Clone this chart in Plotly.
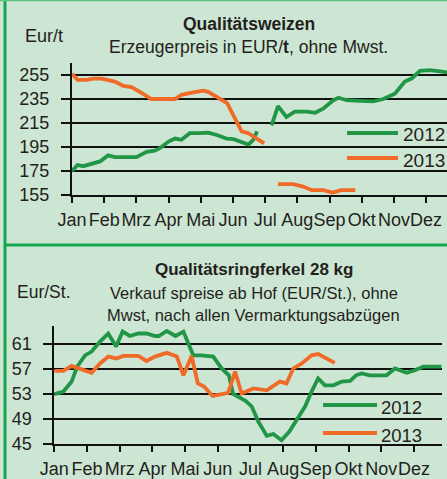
import plotly.graph_objects as go

W, H = 447, 479

months = ["Jan", "Feb", "Mrz", "Apr", "Mai", "Jun", "Jul", "Aug", "Sep", "Okt", "Nov", "Dez"]
month_pos = list(range(12))

# --- Qualitätsweizen (EUR/t) ---
wheat_2012_x = [0, 0.17, 0.35, 0.66, 0.87, 1.12, 1.33, 2.0, 2.32, 2.57, 2.73, 3.0, 3.2, 3.4, 3.66, 3.98,
                4.23, 4.5, 4.8, 5.02, 5.22, 5.48, 5.63, 5.75, 5.9, 6.2, 6.4, 6.66, 6.92, 7.3, 7.55, 7.8,
                8.12, 8.28, 8.53, 8.94, 9.36, 9.67, 10.03, 10.34, 10.55, 10.81, 11.12, 11.43, 11.7]
wheat_2012_y = [175, 180, 179, 181, 183, 188, 186.5, 186.5, 191, 192, 194, 199.5, 202, 201, 206.5, 206.5,
                207, 205, 202, 201.5, 199.5, 197, 201, 208, None, 213, 229, 220, 224.5, 224.5, 223.5, 227,
                234, 236, 234, 233.5, 233, 235, 239.5, 249.5, 252, 258.5, 259, 258, 257]
wheat_2013_x = [0, 0.17, 0.46, 0.66, 0.92, 1.33, 1.59, 1.85, 2.11, 2.47, 3.2, 3.4, 3.77, 4.08, 4.23, 4.49,
                4.82, 5.01, 5.27, 5.48, 5.73, 5.97, 6.2, 6.4, 6.87, 7.18, 7.45, 7.8, 8.1, 8.36, 8.8]
wheat_2013_y = [256, 251, 251, 252, 252, 249.5, 246, 245, 241, 235, 235, 238.5, 240.5, 242, 241, 237,
                231.5, 221.5, 208, 206.5, 202, 198, None, 164, 164, 162, 159, 159, 157, 159, 159]
wheat_ticks = [155, 175, 195, 215, 235, 255]

# --- Qualitätsringferkel 28 kg (EUR/St.) ---
piglet_2012_x = [0, 0.28, 0.53, 0.7, 0.94, 1.14, 1.4, 1.65, 1.89, 2.09, 2.31, 2.57, 2.82, 3.08, 3.2, 3.44,
                 3.71, 3.95, 4.25, 4.5, 4.86, 5.12, 5.34, 5.47, 5.85, 6.04, 6.24, 6.5, 6.7, 6.95, 7.19,
                 7.41, 7.67, 7.87, 8.07, 8.28, 8.54, 8.79, 9.05, 9.23, 9.4, 9.65, 10.16, 10.42, 10.78,
                 11.03, 11.29, 11.85]
piglet_2012_y = [53, 53.4, 55, 57.4, 59.2, 59.8, 61.4, 62.7, 60.6, 63, 62.3, 62.7, 62.7, 62.3, 62.3, 63.1,
                 62.3, 63, 59.2, 59.2, 59, 57.1, 56, 53, 51.9, 51, 48.6, 46.3, 46.6, 45.6, 47,
                 48.8, 51, 53.4, 55.5, 54.4, 54.4, 55, 55.1, 56, 56.3, 56, 56, 57.1, 56.4,
                 56.8, 57.4, 57.4]
piglet_2013_x = [0, 0.28, 0.53, 0.84, 1.14, 1.4, 1.65, 1.9, 2.11, 2.57, 2.82, 3.08, 3.44, 3.75, 3.95, 4.2,
                 4.39, 4.58, 4.84, 5.32, 5.53, 5.73, 6.09, 6.5, 6.9, 7.1, 7.31, 7.57, 7.87, 8.07, 8.58]
piglet_2013_y = [56.7, 56.7, 57.5, 56.9, 56.4, 57.9, 59, 58.7, 59.1, 59.1, 58.3, 59, 59.6, 59, 56, 59.1,
                 54.7, 54.2, 52.7, 53.2, 56.6, 53.1, 53.9, 53.6, 55, 54.7, 57.1, 57.9, 59.2, 59.4, 58]
piglet_ticks = [45, 49, 53, 57, 61]

GREEN = "rgb(32,150,70)"
ORANGE = "rgb(240,106,40)"
BG = "rgb(205,230,211)"
FRAME = "rgb(22,165,80)"
TXT = "#231f20"
FONT = "Liberation Sans, Arial, sans-serif"
LW = 3.8


def px(x):
    return x / W


def py(y):
    return 1 - y / H


fig = go.Figure()
fig.add_trace(go.Scatter(x=wheat_2012_x, y=wheat_2012_y, mode="lines", line=dict(color=GREEN, width=LW),
                         xaxis="x", yaxis="y", showlegend=False, hoverinfo="skip"))
fig.add_trace(go.Scatter(x=wheat_2013_x, y=wheat_2013_y, mode="lines", line=dict(color=ORANGE, width=LW),
                         xaxis="x", yaxis="y", showlegend=False, hoverinfo="skip"))
fig.add_trace(go.Scatter(x=piglet_2012_x, y=piglet_2012_y, mode="lines", line=dict(color=GREEN, width=LW),
                         xaxis="x2", yaxis="y2", showlegend=False, hoverinfo="skip"))
fig.add_trace(go.Scatter(x=piglet_2013_x, y=piglet_2013_y, mode="lines", line=dict(color=ORANGE, width=LW),
                         xaxis="x2", yaxis="y2", showlegend=False, hoverinfo="skip"))

axis_common = dict(showline=True, linecolor="#111", linewidth=2, ticks="outside", tickcolor="#111",
                   tickwidth=2, tickfont=dict(family=FONT, size=18, color=TXT), zeroline=False,
                   automargin=False, fixedrange=True)

fig.update_layout(
    width=W, height=H, margin=dict(l=0, r=0, t=0, b=0, pad=0, autoexpand=False),
    paper_bgcolor=BG, plot_bgcolor=BG,
    xaxis=dict(domain=[px(72), 1], range=[0, 11.65], tickvals=month_pos, ticktext=months, tickangle=0,
               showgrid=False, ticklen=6, anchor="y", ticklabelstandoff=1, **axis_common),
    yaxis=dict(domain=[py(195), py(63)], range=[155, 265], tickvals=wheat_ticks, showgrid=True,
               gridcolor="#111", gridwidth=2, ticklen=9, anchor="x", ticklabelstandoff=8, **axis_common),
    xaxis2=dict(domain=[px(54.3), px(441.7)], range=[0, 11.85], tickvals=month_pos, ticktext=months,
                tickangle=0, showgrid=False, ticklen=6, anchor="y2", ticklabelstandoff=1, **axis_common),
    yaxis2=dict(domain=[py(444), py(326)], range=[45, 63.9], tickvals=piglet_ticks, showgrid=True,
                gridcolor="#111", gridwidth=2, ticklen=9, anchor="x2", ticklabelstandoff=8, **axis_common),
)

shapes = [
    # frame
    dict(type="line", xref="paper", yref="paper", x0=px(5), x1=px(5), y0=0, y1=1,
         line=dict(color=FRAME, width=3)),
    dict(type="line", xref="paper", yref="paper", x0=0, x1=1, y0=py(0.5), y1=py(0.5),
         line=dict(color="rgb(90,195,125)", width=1.5)),
    dict(type="line", xref="paper", yref="paper", x0=px(5), x1=1, y0=py(245), y1=py(245),
         line=dict(color=FRAME, width=3)),
    # legend keys
    dict(type="line", xref="paper", yref="paper", x0=px(347), x1=px(398), y0=py(133), y1=py(133),
         line=dict(color=GREEN, width=4)),
    dict(type="line", xref="paper", yref="paper", x0=px(347), x1=px(398), y0=py(158), y1=py(158),
         line=dict(color=ORANGE, width=4)),
    dict(type="line", xref="paper", yref="paper", x0=px(323), x1=px(377), y0=py(405), y1=py(405),
         line=dict(color=GREEN, width=4)),
    dict(type="line", xref="paper", yref="paper", x0=px(323), x1=px(377), y0=py(433), y1=py(433),
         line=dict(color=ORANGE, width=4)),
]
fig.update_layout(shapes=shapes)


def ann(text, x, y, size=17, xanchor="center", bold=False):
    fig.add_annotation(text=f"<b>{text}</b>" if bold else text, x=px(x), y=py(y), xref="paper", yref="paper",
                       xanchor=xanchor, yanchor="middle", showarrow=False, borderpad=0,
                       font=dict(family=FONT, size=size, color=TXT))


ann("Qualitätsweizen", 249, 24, size=17.5, bold=True)
ann("Erzeugerpreis in EUR/<b>t</b>, ohne Mwst.", 248, 47, size=17.5)
ann("Eur/t", 24, 36, size=18, xanchor="left")
ann("2012", 446, 135, size=19, xanchor="right")
ann("2013", 446, 160, size=19, xanchor="right")

ann("Qualitätsringferkel 28 kg", 254, 269, size=17, bold=True)
ann("Eur/St.", 16, 292, size=17.5, xanchor="left")
ann("Verkauf spreise ab Hof (EUR/St.), ohne", 254, 293, size=16.5)
ann("Mwst, nach allen Vermarktungsabzügen", 253, 315, size=16.5)
ann("2012", 380, 407, size=18.5, xanchor="left")
ann("2013", 380, 435, size=18.5, xanchor="left")

fig.write_html("out.html", config={"displayModeBar": False, "staticPlot": True},
               post_script="document.body.style.margin='0';document.body.style.padding='0';"
                           "document.documentElement.style.background='" + BG + "';")
